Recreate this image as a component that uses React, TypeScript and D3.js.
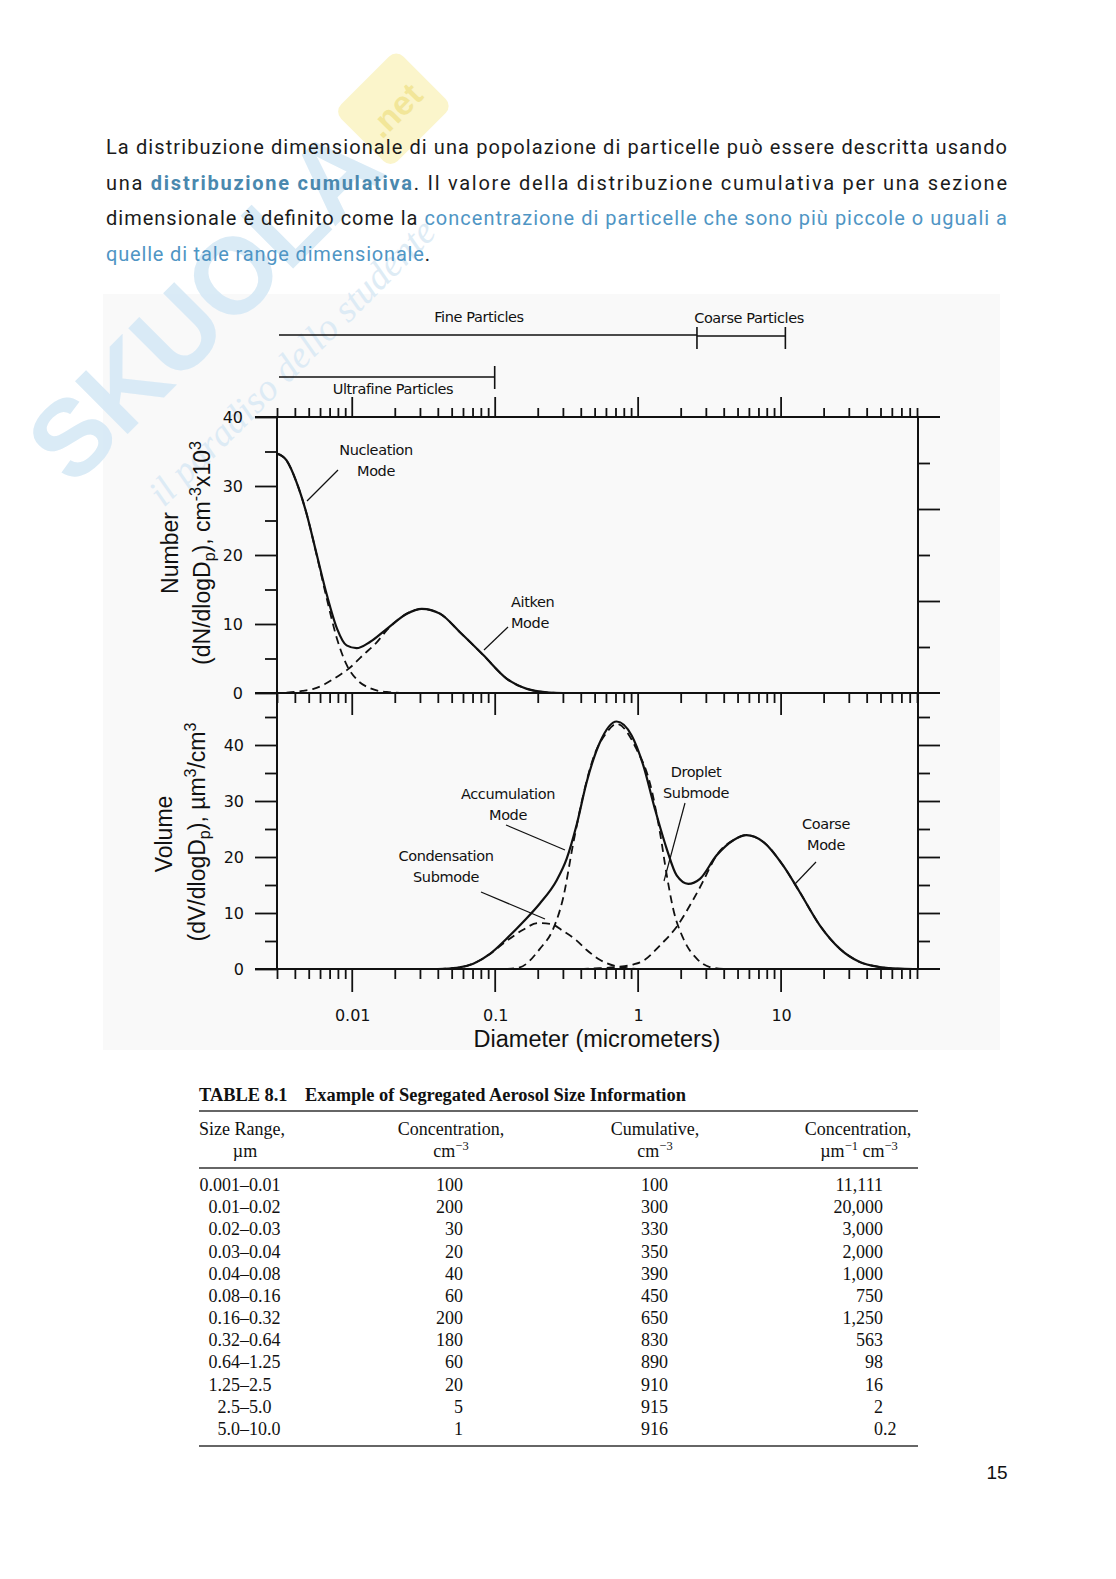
import React, { useEffect, useRef } from 'react';
import * as d3 from 'd3';

// ---- values (diameter in micrometers) ----
// number distribution, dN/dlogDp (cm^-3 x10^3)
const numberTotalD = [0.003, 0.0035, 0.0041, 0.0048, 0.0057, 0.0067, 0.0079, 0.0092, 0.0108, 0.0134, 0.0176, 0.0243, 0.0309, 0.0414, 0.0572, 0.0832, 0.121, 0.168, 0.231, 0.3];
const numberTotalV = [34.7, 33.7, 30.6, 26.2, 20.0, 14.2, 9.3, 6.9, 6.5, 7.4, 9.3, 11.5, 12.2, 11.5, 8.8, 5.5, 2.1, 0.6, 0.1, 0];
const nucleationD = [0.003, 0.0035, 0.0041, 0.0048, 0.0057, 0.0067, 0.0079, 0.0092, 0.0108, 0.0134, 0.0176, 0.025];
const nucleationV = [34.7, 33.7, 30.6, 26.2, 19.9, 13.6, 7.8, 4.1, 2.0, 0.7, 0.15, 0];
const aitkenD = [0.0035, 0.0045, 0.0054, 0.0065, 0.0074, 0.0085, 0.0095, 0.012, 0.0149, 0.0176, 0.0243, 0.0309, 0.0414, 0.0572, 0.0832, 0.121, 0.168, 0.231, 0.3];
const aitkenV = [0.05, 0.3, 0.6, 1.3, 2.0, 2.8, 3.5, 5.5, 7.3, 9.1, 11.5, 12.2, 11.5, 8.8, 5.5, 2.1, 0.6, 0.1, 0];

// volume distribution, dV/dlogDp (um^3/cm^3)
const volumeTotalD = [0.04, 0.0542, 0.0708, 0.0927, 0.121, 0.158, 0.207, 0.271, 0.319, 0.374, 0.44, 0.545, 0.713, 0.908, 1.094, 1.32, 1.595, 1.875, 2.26, 2.73, 3.57, 4.67, 5.78, 7.56, 10.4, 13.6, 18.8, 26, 35.8, 49.4, 66, 85];
const volumeTotalV = [0, 0.2, 0.95, 2.7, 5.4, 8.4, 11.7, 15.8, 19.7, 25.7, 33.4, 40.5, 44.2, 41.7, 36.4, 28.6, 21.5, 16.7, 15.2, 16.1, 20.3, 23.0, 23.9, 22.7, 18.5, 13.75, 7.8, 3.6, 1.25, 0.36, 0.05, 0];
const condensationD = [0.04, 0.0542, 0.0708, 0.0927, 0.121, 0.158, 0.2, 0.25, 0.3, 0.37, 0.44, 0.54, 0.7, 0.9, 1.2];
const condensationV = [0, 0.2, 0.95, 2.7, 5.0, 7.0, 8.2, 8.0, 6.8, 5.2, 3.4, 1.7, 0.5, 0.1, 0];
const dropletD = [0.12, 0.15, 0.207, 0.257, 0.3, 0.356, 0.416, 0.487, 0.61, 0.713, 0.98, 1.23, 1.43, 1.6, 1.77, 2.09, 2.6, 3.2, 4.1];
const dropletV = [0, 0.3, 3.6, 7.2, 12.5, 22.7, 31, 37.5, 42.3, 43.8, 39.3, 32.8, 24.5, 16.7, 10.8, 5.4, 1.8, 0.35, 0];
const coarseD = [0.4, 0.5, 0.71, 0.93, 1.1, 1.43, 1.87, 2.4, 2.85, 3.3, 3.57, 4.67, 5.78, 7.56, 10.4, 13.6, 18.8, 26, 35.8, 49.4, 66, 85];
const coarseV = [0, 0.1, 0.35, 0.8, 1.5, 4.2, 7.5, 12, 15.5, 18.8, 20.3, 23.0, 23.9, 22.7, 18.5, 13.75, 7.8, 3.6, 1.25, 0.36, 0.05, 0];

// axis ticks
const xMajorTicks = [0.01, 0.1, 1, 10];
const xTickLabels = ['0.01', '0.1', '1', '10'];
const numberMajorTicks = [0, 10, 20, 30, 40];
const numberMinorTicks = [5, 15, 25, 35];
const numberRightMajor = [20, 40];
const numberRightMinor = [10, 30, 50];
const volumeMajorTicks = [0, 10, 20, 30, 40];
const volumeMinorTicks = [5, 15, 25, 35, 45];

// size range brackets above the plot (as drawn)
const fineRange = [0.003, 2.6];
const coarseRange = [2.6, 10.8];
const ultrafineRange = [0.003, 0.1];

// table 8.1
const tableSizeRanges = ['0.001–0.01', '0.01–0.02', '0.02–0.03', '0.03–0.04', '0.04–0.08', '0.08–0.16', '0.16–0.32', '0.32–0.64', '0.64–1.25', '1.25–2.5', '2.5–5.0', '5.0–10.0'];
const tableConcentration = ['100', '200', '30', '20', '40', '60', '200', '180', '60', '20', '5', '1'];
const tableCumulative = ['100', '300', '330', '350', '390', '450', '650', '830', '890', '910', '915', '916'];
const tableConcPerUm = ['11,111', '20,000', '3,000', '2,000', '1,000', '750', '1,250', '563', '98', '16', '2', '0.2'];

const paragraphLines = [
  [{ t: 'La distribuzione dimensionale di una popolazione di particelle può essere descritta usando', s: 'plain' }],
  [{ t: 'una ', s: 'plain' }, { t: 'distribuzione cumulativa', s: 'strong' }, { t: '. Il valore della distribuzione cumulativa per una sezione', s: 'plain' }],
  [{ t: 'dimensionale è definito come la ', s: 'plain' }, { t: 'concentrazione di particelle che sono più piccole o uguali a', s: 'blue' }],
  [{ t: 'quelle di tale range dimensionale', s: 'blue' }, { t: '.', s: 'plain' }],
];
const paragraphWidths = [901, 901, 901, 324];

const W = 1116;
const H = 1579;
const INK = '#111';
const SANS = "'Liberation Sans', Arial, sans-serif";
const VERD = "'DejaVu Sans', Verdana, sans-serif";
const SERIF = "'Liberation Serif', 'Times New Roman', serif";

const x = d3.scaleLog().domain([0.003, 90]).range([277, 917]);
const yN = d3.scaleLinear().domain([0, 40]).range([691, 415]);
const yNR = d3.scaleLinear().domain([0, 60]).range([691, 415]);
const yV = d3.scaleLinear().domain([0, 40]).range([967, 743]);

const isDecade = (t: number) => Math.abs(Math.log10(t) - Math.round(Math.log10(t))) < 1e-6;

function pathFor(ds: number[], vs: number[], y: d3.ScaleLinear<number, number>) {
  const line = d3.line<number>()
    .x((_, i) => x(ds[i]))
    .y((v) => y(v))
    .curve(d3.curveMonotoneX);
  return line(vs) || '';
}

function Annotation({ lines, cx, y0, anchor = 'middle', leader }: { lines: string[]; cx: number; y0: number; anchor?: string; leader: number[] }) {
  return (
    <g>
      {lines.map((l, i) => (
        <text key={i} x={cx} y={y0 + i * 21} textAnchor={anchor} fontFamily={VERD} fontSize={14.5} letterSpacing={-0.4} fill={INK}>{l}</text>
      ))}
      <line x1={leader[0]} y1={leader[1]} x2={leader[2]} y2={leader[3]} stroke={INK} strokeWidth={1.2} />
    </g>
  );
}

export default function App() {
  const axesRef = useRef<SVGGElement>(null);

  useEffect(() => {
    if (!axesRef.current) return;
    const g = d3.select(axesRef.current);
    g.selectAll('*').remove();

    const allX = x.ticks();
    const minorX = allX.filter((t) => !isDecade(t));
    const majorX = allX.filter((t) => isDecade(t));

    const tickGroup = (axis: d3.Axis<any>, tx: number, ty: number) => {
      const sel = g.append('g').attr('transform', `translate(${tx},${ty})`).call(axis);
      sel.select('.domain').remove();
      sel.selectAll('line').attr('stroke', INK).attr('stroke-width', 1.8);
      sel.selectAll('text').remove();
    };

    // top axis (ticks up), middle and bottom axes (ticks down)
    tickGroup(d3.axisTop(x).tickValues(minorX).tickSize(9), 0, 415);
    tickGroup(d3.axisTop(x).tickValues(majorX).tickSize(20), 0, 415);
    tickGroup(d3.axisBottom(x).tickValues(minorX).tickSize(10), 0, 691);
    tickGroup(d3.axisBottom(x).tickValues(majorX).tickSize(22), 0, 691);
    tickGroup(d3.axisBottom(x).tickValues(minorX).tickSize(10), 0, 967);
    tickGroup(d3.axisBottom(x).tickValues(majorX).tickSize(23), 0, 967);

    // left axes
    tickGroup(d3.axisLeft(yN).tickValues(numberMajorTicks).tickSize(22), 277, 0);
    tickGroup(d3.axisLeft(yN).tickValues(numberMinorTicks).tickSize(12), 277, 0);
    tickGroup(d3.axisLeft(yV).tickValues(volumeMajorTicks).tickSize(22), 277, 0);
    tickGroup(d3.axisLeft(yV).tickValues(volumeMinorTicks).tickSize(12), 277, 0);

    // right axes
    tickGroup(d3.axisRight(yNR).tickValues(numberRightMajor).tickSize(22), 918, 0);
    tickGroup(d3.axisRight(yNR).tickValues(numberRightMinor).tickSize(12), 918, 0);
    tickGroup(d3.axisRight(yV).tickValues(volumeMajorTicks.slice(1)).tickSize(22), 918, 0);
    tickGroup(d3.axisRight(yV).tickValues(volumeMinorTicks).tickSize(12), 918, 0);
  }, []);

  const solid = { fill: 'none', stroke: INK, strokeWidth: 2.2 };
  const dashed = { fill: 'none', stroke: INK, strokeWidth: 1.8, strokeDasharray: '8 5' };

  const colours: Record<string, { fill: string; weight: number }> = {
    plain: { fill: '#1b1b1b', weight: 400 },
    strong: { fill: '#4a88ae', weight: 700 },
    blue: { fill: '#4f95c4', weight: 400 },
  };

  const rowY = (i: number) => 1191 + i * 22.18;

  return (
    <div style={{ position: 'absolute', left: 0, top: 0, width: W, height: H, background: '#fff' }}>
      <svg width={W} height={H} viewBox={`0 0 ${W} ${H}`}>
        <rect x={0} y={0} width={W} height={H} fill="#fff" />

        {/* figure background */}
        <rect x={103} y={294} width={897} height={756} fill="#f9f9f9" />

        {/* watermark */}
        <g transform="translate(235,270) rotate(-45)" opacity={0.9}>
          <text x={175} y={40} textAnchor="end" fontFamily={SANS} fontWeight={700} fontSize={108} fill="#d6e9f6" letterSpacing={-2}>SKUOLA</text>
          <rect x={182} y={-42} width={88} height={80} rx={10} fill="#fbf5c6" />
          <text x={226} y={12} textAnchor="middle" fontFamily={SANS} fontWeight={700} fontSize={34} fill="#f1e48f">.net</text>
          <text x={-25} y={118} textAnchor="middle" fontFamily={SERIF} fontStyle="italic" fontSize={38} fill="#dbeaf5">il paradiso dello studente</text>
        </g>

        {/* paragraph */}
        {paragraphLines.map((line, li) => (
          <text key={li} x={106} y={154 + li * 35.7} fontFamily="Roboto, 'Open Sans', sans-serif" fontSize={20}
            textLength={paragraphWidths[li]} lengthAdjust="spacing">
            {line.map((seg, si) => (
              <tspan key={si} fill={colours[seg.s].fill} fontWeight={colours[seg.s].weight}>{seg.t}</tspan>
            ))}
          </text>
        ))}

        <g transform="translate(0,2)">
          {/* size range brackets */}
          <g stroke={INK} strokeWidth={1.6}>
            <line x1={x(fineRange[0]) + 2} x2={x(fineRange[1])} y1={333} y2={333} />
            <line x1={x(coarseRange[0])} x2={x(coarseRange[1])} y1={334} y2={334} />
            <line x1={x(coarseRange[0])} x2={x(coarseRange[0])} y1={325} y2={347} />
            <line x1={x(coarseRange[1])} x2={x(coarseRange[1])} y1={325} y2={347} />
            <line x1={x(ultrafineRange[0]) + 2} x2={x(ultrafineRange[1])} y1={375} y2={375} />
            <line x1={x(ultrafineRange[1])} x2={x(ultrafineRange[1])} y1={364} y2={387} />
          </g>
          <g fontFamily={VERD} fontSize={14.5} letterSpacing={-0.4} fill={INK} textAnchor="middle">
            <text x={479} y={320}>Fine Particles</text>
            <text x={749} y={321}>Coarse Particles</text>
            <text x={393} y={392}>Ultrafine Particles</text>
          </g>

          {/* frame */}
          <g stroke={INK} strokeWidth={2}>
            <line x1={255} x2={940} y1={yN(40)} y2={yN(40)} />
            <line x1={255} x2={940} y1={yN(0)} y2={yN(0)} />
            <line x1={255} x2={940} y1={yV(0)} y2={yV(0)} />
            <line x1={277} x2={277} y1={yN(40)} y2={yV(0)} />
            <line x1={918} x2={918} y1={yN(40)} y2={yV(0)} />
          </g>
          <g ref={axesRef} />

          {/* curves */}
          <path d={pathFor(nucleationD, nucleationV, yN)} {...dashed} />
          <path d={pathFor(aitkenD, aitkenV, yN)} {...dashed} />
          <path d={pathFor(numberTotalD, numberTotalV, yN)} {...solid} />
          <path d={pathFor(condensationD, condensationV, yV)} {...dashed} />
          <path d={pathFor(dropletD, dropletV, yV)} {...dashed} />
          <path d={pathFor(coarseD, coarseV, yV)} {...dashed} />
          <path d={pathFor(volumeTotalD, volumeTotalV, yV)} {...solid} />

          {/* y tick labels */}
          <g fontFamily={VERD} fontSize={16} fill={INK} textAnchor="end">
            {numberMajorTicks.map((t) => (
              <text key={`n${t}`} x={243} y={yN(t) + 6}>{t}</text>
            ))}
            {volumeMajorTicks.map((t) => (
              <text key={`v${t}`} x={244} y={yV(t) + 6}>{t}</text>
            ))}
          </g>

          {/* x tick labels */}
          <g fontFamily={VERD} fontSize={16} fill={INK} textAnchor="middle">
            {xMajorTicks.map((t, i) => (
              <text key={t} x={x(t) + 1} y={1019}>{xTickLabels[i]}</text>
            ))}
          </g>
          <text x={597} y={1045} textAnchor="middle" fontFamily={SANS} fontSize={23.5} fill={INK}>Diameter (micrometers)</text>

          {/* y axis titles */}
          <g fontFamily={SANS} fontSize={23} fill={INK} textAnchor="middle">
            <text transform="translate(178,551) rotate(-90)">Number</text>
            <text transform="translate(210,551) rotate(-90)">
              (dN/dlogD<tspan dy={5} fontSize={16}>p</tspan><tspan dy={-5}>), cm</tspan>
              <tspan dy={-9} fontSize={16}>-3</tspan><tspan dy={9}>x10</tspan>
              <tspan dy={-9} fontSize={16}>3</tspan>
            </text>
            <text transform="translate(172,832) rotate(-90)">Volume</text>
            <text transform="translate(205,830) rotate(-90)">
              (dV/dlogD<tspan dy={5} fontSize={16}>p</tspan><tspan dy={-5}>), µm</tspan>
              <tspan dy={-9} fontSize={16}>3</tspan><tspan dy={9}>/cm</tspan>
              <tspan dy={-9} fontSize={16}>3</tspan>
            </text>
          </g>

          {/* mode annotations */}
          <Annotation lines={['Nucleation', 'Mode']} cx={376} y0={453} leader={[307, 499, 338, 468]} />
          <Annotation lines={['Aitken', 'Mode']} cx={511} y0={605} anchor="start" leader={[484, 648, 508, 625]} />
          <Annotation lines={['Accumulation', 'Mode']} cx={508} y0={797} leader={[506, 823, 565, 848]} />
          <Annotation lines={['Condensation', 'Submode']} cx={446} y0={859} leader={[481, 890, 545, 917]} />
          <Annotation lines={['Droplet', 'Submode']} cx={696} y0={775} leader={[685, 801, 664, 879]} />
          <Annotation lines={['Coarse', 'Mode']} cx={826} y0={827} leader={[816, 860, 795, 882]} />
        </g>

        {/* table */}
        <g fontFamily={SERIF} fill={INK}>
          <text x={199} y={1101} fontSize={18.4} fontWeight={700}>TABLE 8.1</text>
          <text x={305} y={1101} fontSize={18.4} fontWeight={700}>Example of Segregated Aerosol Size Information</text>
          <g stroke="#333" strokeWidth={1.4}>
            <line x1={199} x2={918} y1={1111} y2={1111} />
            <line x1={199} x2={918} y1={1168} y2={1168} />
            <line x1={199} x2={918} y1={1446} y2={1446} />
          </g>
          <g fontSize={18}>
            <text x={199} y={1135}>Size Range,</text>
            <text x={245} y={1157} textAnchor="middle">µm</text>
            <text x={451} y={1135} textAnchor="middle">Concentration,</text>
            <text x={451} y={1157} textAnchor="middle">cm<tspan dy={-7} fontSize={12.5}>−3</tspan></text>
            <text x={655} y={1135} textAnchor="middle">Cumulative,</text>
            <text x={655} y={1157} textAnchor="middle">cm<tspan dy={-7} fontSize={12.5}>−3</tspan></text>
            <text x={858} y={1135} textAnchor="middle">Concentration,</text>
            <text x={859} y={1157} textAnchor="middle">µm<tspan dy={-7} fontSize={12.5}>−1</tspan><tspan dy={7}> cm</tspan><tspan dy={-7} fontSize={12.5}>−3</tspan></text>
            {tableSizeRanges.map((r, i) => {
              const [lo, hi] = r.split('–');
              return (
                <g key={r}>
                  <text x={240} y={rowY(i)} textAnchor="end">{lo}</text>
                  <text x={240} y={rowY(i)}>–{hi}</text>
                </g>
              );
            })}
            {tableConcentration.map((v, i) => (
              <text key={`c${i}`} x={463} y={rowY(i)} textAnchor="end">{v}</text>
            ))}
            {tableCumulative.map((v, i) => (
              <text key={`k${i}`} x={668} y={rowY(i)} textAnchor="end">{v}</text>
            ))}
            {tableConcPerUm.map((v, i) => {
              const [intPart, frac] = v.split('.');
              return (
                <g key={`p${i}`}>
                  <text x={883} y={rowY(i)} textAnchor="end">{intPart}</text>
                  {frac !== undefined && <text x={883} y={rowY(i)}>.{frac}</text>}
                </g>
              );
            })}
          </g>
        </g>

        {/* page number */}
        <text x={997} y={1479} textAnchor="middle" fontFamily={SANS} fontSize={19} fill="#111">15</text>
      </svg>
    </div>
  );
}
